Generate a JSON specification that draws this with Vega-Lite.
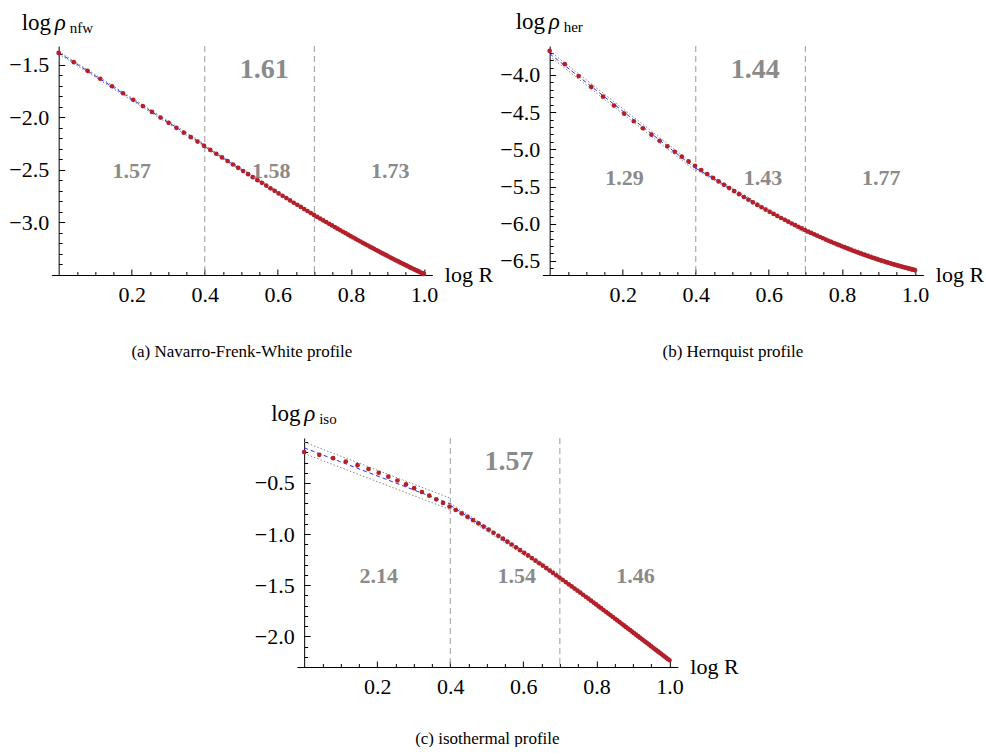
{
"$schema": "https://vega.github.io/schema/vega-lite/v6.json",
"background": "white",
"padding": {"left": 8, "top": 11, "right": 0, "bottom": 0},
"config": {"view": {"stroke": null}, "font": "Liberation Serif", "axis": {"labelOverlap": false}},
"datasets": {
"curve": [
{"x":0,"a":-1.386,"b":-3.676,"c":-0.198},{"x":0.0414,"a":-1.474,"b":-3.855,"c":-0.225},{"x":0.0792,"a":-1.556,"b":-4.015,"c":-0.257},{"x":0.1139,"a":-1.632,"b":-4.160,"c":-0.291},{"x":0.1461,"a":-1.703,"b":-4.291,"c":-0.326},{"x":0.1761,"a":-1.770,"b":-4.411,"c":-0.363},{"x":0.2041,"a":-1.832,"b":-4.520,"c":-0.401},{"x":0.2304,"a":-1.892,"b":-4.622,"c":-0.438},{"x":0.2553,"a":-1.948,"b":-4.716,"c":-0.476},{"x":0.2788,"a":-2.001,"b":-4.803,"c":-0.514},
{"x":0.3010,"a":-2.051,"b":-4.884,"c":-0.551},{"x":0.3222,"a":-2.099,"b":-4.960,"c":-0.588},{"x":0.3424,"a":-2.145,"b":-5.032,"c":-0.624},{"x":0.3617,"a":-2.188,"b":-5.099,"c":-0.660},{"x":0.3802,"a":-2.230,"b":-5.162,"c":-0.695},{"x":0.3979,"a":-2.270,"b":-5.222,"c":-0.730},{"x":0.4150,"a":-2.309,"b":-5.279,"c":-0.764},{"x":0.4314,"a":-2.346,"b":-5.332,"c":-0.798},{"x":0.4472,"a":-2.381,"b":-5.383,"c":-0.831},{"x":0.4624,"a":-2.415,"b":-5.431,"c":-0.863},
{"x":0.4771,"a":-2.448,"b":-5.477,"c":-0.895},{"x":0.4914,"a":-2.480,"b":-5.521,"c":-0.926},{"x":0.5051,"a":-2.511,"b":-5.563,"c":-0.957},{"x":0.5185,"a":-2.540,"b":-5.603,"c":-0.987},{"x":0.5315,"a":-2.569,"b":-5.641,"c":-1.016},{"x":0.5441,"a":-2.597,"b":-5.678,"c":-1.045},{"x":0.5563,"a":-2.623,"b":-5.713,"c":-1.074},{"x":0.5682,"a":-2.649,"b":-5.747,"c":-1.102},{"x":0.5798,"a":-2.675,"b":-5.779,"c":-1.129},{"x":0.5911,"a":-2.699,"b":-5.810,"c":-1.157},
{"x":0.6021,"a":-2.723,"b":-5.840,"c":-1.183},{"x":0.6128,"a":-2.746,"b":-5.868,"c":-1.209},{"x":0.6232,"a":-2.768,"b":-5.896,"c":-1.235},{"x":0.6335,"a":-2.790,"b":-5.923,"c":-1.260},{"x":0.6435,"a":-2.812,"b":-5.948,"c":-1.285},{"x":0.6532,"a":-2.832,"b":-5.973,"c":-1.309},{"x":0.6628,"a":-2.852,"b":-5.997,"c":-1.333},{"x":0.6721,"a":-2.872,"b":-6.020,"c":-1.357},{"x":0.6812,"a":-2.891,"b":-6.042,"c":-1.380},{"x":0.6902,"a":-2.910,"b":-6.064,"c":-1.403},
{"x":0.6990,"a":-2.928,"b":-6.085,"c":-1.425},{"x":0.7076,"a":-2.946,"b":-6.105,"c":-1.447},{"x":0.7160,"a":-2.963,"b":-6.124,"c":-1.469},{"x":0.7243,"a":-2.980,"b":-6.143,"c":-1.491},{"x":0.7324,"a":-2.996,"b":-6.161,"c":-1.512},{"x":0.7404,"a":-3.013,"b":-6.179,"c":-1.533},{"x":0.7482,"a":-3.028,"b":-6.196,"c":-1.553},{"x":0.7559,"a":-3.044,"b":-6.213,"c":-1.573},{"x":0.7634,"a":-3.059,"b":-6.229,"c":-1.593},{"x":0.7709,"a":-3.074,"b":-6.245,"c":-1.613},
{"x":0.7782,"a":-3.088,"b":-6.260,"c":-1.632},{"x":0.7853,"a":-3.102,"b":-6.275,"c":-1.651},{"x":0.7924,"a":-3.116,"b":-6.289,"c":-1.670},{"x":0.7993,"a":-3.130,"b":-6.303,"c":-1.688},{"x":0.8062,"a":-3.143,"b":-6.316,"c":-1.707},{"x":0.8129,"a":-3.156,"b":-6.329,"c":-1.725},{"x":0.8195,"a":-3.169,"b":-6.342,"c":-1.743},{"x":0.8261,"a":-3.181,"b":-6.355,"c":-1.760},{"x":0.8325,"a":-3.194,"b":-6.367,"c":-1.777},{"x":0.8388,"a":-3.206,"b":-6.378,"c":-1.795},
{"x":0.8451,"a":-3.217,"b":-6.390,"c":-1.811},{"x":0.8513,"a":-3.229,"b":-6.401,"c":-1.828},{"x":0.8573,"a":-3.240,"b":-6.412,"c":-1.844},{"x":0.8633,"a":-3.251,"b":-6.422,"c":-1.861},{"x":0.8692,"a":-3.262,"b":-6.432,"c":-1.877},{"x":0.8751,"a":-3.273,"b":-6.442,"c":-1.893},{"x":0.8808,"a":-3.284,"b":-6.452,"c":-1.908},{"x":0.8865,"a":-3.294,"b":-6.461,"c":-1.924},{"x":0.8921,"a":-3.304,"b":-6.471,"c":-1.939},{"x":0.8976,"a":-3.314,"b":-6.480,"c":-1.954},
{"x":0.9031,"a":-3.324,"b":-6.488,"c":-1.969},{"x":0.9085,"a":-3.334,"b":-6.497,"c":-1.984},{"x":0.9138,"a":-3.343,"b":-6.505,"c":-1.998},{"x":0.9191,"a":-3.353,"b":-6.513,"c":-2.013},{"x":0.9243,"a":-3.362,"b":-6.521,"c":-2.027},{"x":0.9294,"a":-3.371,"b":-6.529,"c":-2.041},{"x":0.9345,"a":-3.380,"b":-6.536,"c":-2.055},{"x":0.9395,"a":-3.388,"b":-6.543,"c":-2.068},{"x":0.9445,"a":-3.397,"b":-6.551,"c":-2.082},{"x":0.9494,"a":-3.405,"b":-6.557,"c":-2.096},
{"x":0.9542,"a":-3.414,"b":-6.564,"c":-2.109},{"x":0.9590,"a":-3.422,"b":-6.571,"c":-2.122},{"x":0.9638,"a":-3.430,"b":-6.577,"c":-2.135},{"x":0.9685,"a":-3.438,"b":-6.583,"c":-2.148},{"x":0.9731,"a":-3.446,"b":-6.589,"c":-2.160},{"x":0.9777,"a":-3.453,"b":-6.595,"c":-2.173},{"x":0.9823,"a":-3.461,"b":-6.601,"c":-2.186},{"x":0.9868,"a":-3.468,"b":-6.607,"c":-2.198},{"x":0.9912,"a":-3.476,"b":-6.612,"c":-2.210},{"x":0.9956,"a":-3.483,"b":-6.618,"c":-2.222},
{"x":1.0,"a":-3.490,"b":-6.623,"c":-2.234}
],
"fits": [
{"p":"a","g":"1f","k":"fit","x":0,"y":-1.383},{"p":"a","g":"1f","k":"fit","x":0.4,"y":-2.267},
{"p":"a","g":"1h","k":"band","x":0,"y":-1.371},{"p":"a","g":"1h","k":"band","x":0.4,"y":-2.255},
{"p":"a","g":"1l","k":"band","x":0,"y":-1.395},{"p":"a","g":"1l","k":"band","x":0.4,"y":-2.279},
{"p":"a","g":"2f","k":"fit","x":0.4,"y":-2.277},{"p":"a","g":"2f","k":"fit","x":0.7,"y":-2.935},
{"p":"a","g":"2h","k":"band","x":0.4,"y":-2.265},{"p":"a","g":"2h","k":"band","x":0.7,"y":-2.923},
{"p":"a","g":"2l","k":"band","x":0.4,"y":-2.289},{"p":"a","g":"2l","k":"band","x":0.7,"y":-2.947},
{"p":"a","g":"3f","k":"fit","x":0.7,"y":-2.940},{"p":"a","g":"3f","k":"fit","x":1.0,"y":-3.502},
{"p":"a","g":"3h","k":"band","x":0.7,"y":-2.930},{"p":"a","g":"3h","k":"band","x":1.0,"y":-3.492},
{"p":"a","g":"3l","k":"band","x":0.7,"y":-2.950},{"p":"a","g":"3l","k":"band","x":1.0,"y":-3.512},
{"p":"b","g":"1f","k":"fit","x":0,"y":-3.713},{"p":"b","g":"1f","k":"fit","x":0.4,"y":-5.259},
{"p":"b","g":"1h","k":"band","x":0,"y":-3.678},{"p":"b","g":"1h","k":"band","x":0.4,"y":-5.224},
{"p":"b","g":"1l","k":"band","x":0,"y":-3.748},{"p":"b","g":"1l","k":"band","x":0.4,"y":-5.294},
{"p":"b","g":"2f","k":"fit","x":0.4,"y":-5.254},{"p":"b","g":"2f","k":"fit","x":0.7,"y":-6.110},
{"p":"b","g":"2h","k":"band","x":0.4,"y":-5.234},{"p":"b","g":"2h","k":"band","x":0.7,"y":-6.090},
{"p":"b","g":"2l","k":"band","x":0.4,"y":-5.274},{"p":"b","g":"2l","k":"band","x":0.7,"y":-6.130},
{"p":"b","g":"3f","k":"fit","x":0.7,"y":-6.110},{"p":"b","g":"3f","k":"fit","x":1.0,"y":-6.648},
{"p":"b","g":"3h","k":"band","x":0.7,"y":-6.095},{"p":"b","g":"3h","k":"band","x":1.0,"y":-6.633},
{"p":"b","g":"3l","k":"band","x":0.7,"y":-6.125},{"p":"b","g":"3l","k":"band","x":1.0,"y":-6.663},
{"p":"c","g":"1f","k":"fit","x":0,"y":-0.156},{"p":"c","g":"1f","k":"fit","x":0.4,"y":-0.705},
{"p":"c","g":"1h","k":"band","x":0,"y":-0.100},{"p":"c","g":"1h","k":"band","x":0.4,"y":-0.649},
{"p":"c","g":"1l","k":"band","x":0,"y":-0.212},{"p":"c","g":"1l","k":"band","x":0.4,"y":-0.761},
{"p":"c","g":"2f","k":"fit","x":0.4,"y":-0.718},{"p":"c","g":"2f","k":"fit","x":0.7,"y":-1.413},
{"p":"c","g":"2h","k":"band","x":0.4,"y":-0.698},{"p":"c","g":"2h","k":"band","x":0.7,"y":-1.393},
{"p":"c","g":"2l","k":"band","x":0.4,"y":-0.738},{"p":"c","g":"2l","k":"band","x":0.7,"y":-1.433},
{"p":"c","g":"3f","k":"fit","x":0.7,"y":-1.422},{"p":"c","g":"3f","k":"fit","x":1.0,"y":-2.231},
{"p":"c","g":"3h","k":"band","x":0.7,"y":-1.410},{"p":"c","g":"3h","k":"band","x":1.0,"y":-2.219},
{"p":"c","g":"3l","k":"band","x":0.7,"y":-1.434},{"p":"c","g":"3l","k":"band","x":1.0,"y":-2.243}
],
"notes": [
{"p":"a","k":"big","t":"1.61","x":0.563,"y":-1.548},
{"p":"a","k":"small","t":"1.57","x":0.20,"y":-2.510},
{"p":"a","k":"small","t":"1.58","x":0.582,"y":-2.510},
{"p":"a","k":"small","t":"1.73","x":0.908,"y":-2.510},
{"p":"b","k":"big","t":"1.44","x":0.563,"y":-3.930},
{"p":"b","k":"small","t":"1.29","x":0.205,"y":-5.383},
{"p":"b","k":"small","t":"1.43","x":0.584,"y":-5.383},
{"p":"b","k":"small","t":"1.77","x":0.908,"y":-5.383},
{"p":"c","k":"big","t":"1.57","x":0.561,"y":-0.294},
{"p":"c","k":"small","t":"2.14","x":0.204,"y":-1.414},
{"p":"c","k":"small","t":"1.54","x":0.582,"y":-1.414},
{"p":"c","k":"small","t":"1.46","x":0.907,"y":-1.414}
],
"cuts": [{"x":0.4},{"x":0.7}]
},
"vconcat": [
{"hconcat": [
{
"width": 381, "height": 229,
"title": {"text": "(a) Navarro-Frenk-White profile", "orient": "bottom", "anchor": "middle", "frame": "group", "offset": 36, "font": "Liberation Serif", "fontSize": 17, "fontWeight": "normal", "color": "black", "baseline": "top"},
"layer": [
{"data": {"name": "cuts"}, "mark": {"type": "rule", "color": "#9a9a9a", "strokeDash": [6, 4], "strokeWidth": 1}, "encoding": {"x": {"field": "x", "type": "quantitative"}}},
{"data": {"name": "fits"}, "transform": [{"filter": "datum.p == 'a' && datum.k == 'band'"}], "mark": {"type": "line", "color": "#888888", "strokeDash": [1.5, 2], "strokeWidth": 1}, "encoding": {"x": {"field": "x", "type": "quantitative"}, "y": {"field": "y", "type": "quantitative"}, "detail": {"field": "g"}}},
{"data": {"name": "fits"}, "transform": [{"filter": "datum.p == 'a' && datum.k == 'fit'"}], "mark": {"type": "line", "color": "#2a2aff", "strokeDash": [4, 3], "strokeWidth": 1}, "encoding": {"x": {"field": "x", "type": "quantitative"}, "y": {"field": "y", "type": "quantitative"}, "detail": {"field": "g"}}},
{"data": {"name": "curve"}, "mark": {"type": "circle", "size": 22, "color": "#b3202a", "opacity": 1},
 "encoding": {
  "x": {"field": "x", "type": "quantitative", "scale": {"domain": [-0.02, 1.023], "nice": false, "zero": false},
   "axis": {"title": "log R", "titleAngle": 0, "titleX": 393, "titleY": 6, "titleAlign": "left", "titleBaseline": "alphabetic", "titleFont": "Liberation Serif", "titleFontSize": 22, "titleFontWeight": "normal", "titleColor": "black",
    "values": [0.05,0.1,0.15,0.2,0.25,0.3,0.35,0.4,0.45,0.5,0.55,0.6,0.65,0.7,0.75,0.8,0.85,0.9,0.95,1.0], "tickCount": 200,
    "format": ".1f", "labelExpr": "abs(datum.value*5 - round(datum.value*5)) < 0.001 ? datum.label : ''",
    "labelFont": "Liberation Serif", "labelFontSize": 22, "labelColor": "black", "labelPadding": 15, "labelFlush": false, "labelOverlap": false,
    "tickColor": "black", "tickWidth": 1, "tickSize": {"condition": {"test": "abs(datum.value*5 - round(datum.value*5)) < 0.001", "value": -6}, "value": -3.5},
    "domainColor": "black", "domainWidth": 1, "grid": false}},
  "y": {"field": "a", "type": "quantitative", "scale": {"domain": [-3.5, -1.32], "nice": false, "zero": false},
   "axis": {"title": null, "offset": -7.3,
    "values": [-1.4,-1.5,-1.6,-1.7,-1.8,-1.9,-2.0,-2.1,-2.2,-2.3,-2.4,-2.5,-2.6,-2.7,-2.8,-2.9,-3.0,-3.1,-3.2,-3.3,-3.4], "tickCount": 200,
    "format": ".1f", "labelExpr": "abs(datum.value*2 - round(datum.value*2)) < 0.001 ? datum.label : ''",
    "labelFont": "Liberation Serif", "labelFontSize": 22, "labelColor": "black", "labelPadding": 16, "labelFlush": false, "labelOverlap": false, "labelBaseline": "middle",
    "tickColor": "black", "tickWidth": 1, "tickSize": {"condition": {"test": "abs(datum.value*2 - round(datum.value*2)) < 0.001", "value": -6}, "value": -3.5},
    "domainColor": "black", "domainWidth": 1, "grid": false}}}},
{"data": {"name": "notes"}, "transform": [{"filter": "datum.p == 'a' && datum.k == 'small'"}], "mark": {"type": "text", "font": "Liberation Serif", "fontWeight": "bold", "fontSize": 22, "color": "#8a8a8a", "baseline": "middle", "align": "center"}, "encoding": {"x": {"field": "x", "type": "quantitative"}, "y": {"field": "y", "type": "quantitative"}, "text": {"field": "t"}}},
{"data": {"name": "notes"}, "transform": [{"filter": "datum.p == 'a' && datum.k == 'big'"}], "mark": {"type": "text", "font": "Liberation Serif", "fontWeight": "bold", "fontSize": 28, "color": "#8a8a8a", "baseline": "middle", "align": "center"}, "encoding": {"x": {"field": "x", "type": "quantitative"}, "y": {"field": "y", "type": "quantitative"}, "text": {"field": "t"}}},
{"data": {"values": [{"t": "log"}]}, "mark": {"type": "text", "font": "Liberation Serif", "fontSize": 23, "color": "black", "align": "left", "baseline": "alphabetic", "dx": -37, "dy": -16.3}, "encoding": {"x": {"datum": 0, "type": "quantitative"}, "y": {"datum": -1.32, "type": "quantitative"}, "text": {"field": "t"}}},
{"data": {"values": [{"t": "ρ"}]}, "mark": {"type": "text", "font": "Liberation Serif", "fontSize": 23, "fontStyle": "italic", "color": "black", "align": "left", "baseline": "alphabetic", "dx": -4, "dy": -16.3}, "encoding": {"x": {"datum": 0, "type": "quantitative"}, "y": {"datum": -1.32, "type": "quantitative"}, "text": {"field": "t"}}},
{"data": {"values": [{"t": "nfw"}]}, "mark": {"type": "text", "font": "Liberation Serif", "fontSize": 15, "color": "black", "align": "left", "baseline": "alphabetic", "dx": 11, "dy": -13.5}, "encoding": {"x": {"datum": 0, "type": "quantitative"}, "y": {"datum": -1.32, "type": "quantitative"}, "text": {"field": "t"}}}
]
},
{
"width": 381, "height": 229,
"title": {"text": "(b) Hernquist profile", "orient": "bottom", "anchor": "middle", "frame": "group", "offset": 36, "font": "Liberation Serif", "fontSize": 17, "fontWeight": "normal", "color": "black", "baseline": "top"},
"layer": [
{"data": {"name": "cuts"}, "mark": {"type": "rule", "color": "#9a9a9a", "strokeDash": [6, 4], "strokeWidth": 1}, "encoding": {"x": {"field": "x", "type": "quantitative"}}},
{"data": {"name": "fits"}, "transform": [{"filter": "datum.p == 'b' && datum.k == 'band'"}], "mark": {"type": "line", "color": "#888888", "strokeDash": [1.5, 2], "strokeWidth": 1}, "encoding": {"x": {"field": "x", "type": "quantitative"}, "y": {"field": "y", "type": "quantitative"}, "detail": {"field": "g"}}},
{"data": {"name": "fits"}, "transform": [{"filter": "datum.p == 'b' && datum.k == 'fit'"}], "mark": {"type": "line", "color": "#2a2aff", "strokeDash": [4, 3], "strokeWidth": 1}, "encoding": {"x": {"field": "x", "type": "quantitative"}, "y": {"field": "y", "type": "quantitative"}, "detail": {"field": "g"}}},
{"data": {"name": "curve"}, "mark": {"type": "circle", "size": 22, "color": "#b3202a", "opacity": 1},
 "encoding": {
  "x": {"field": "x", "type": "quantitative", "scale": {"domain": [-0.02, 1.023], "nice": false, "zero": false},
   "axis": {"title": "log R", "titleAngle": 0, "titleX": 393, "titleY": 6, "titleAlign": "left", "titleBaseline": "alphabetic", "titleFont": "Liberation Serif", "titleFontSize": 22, "titleFontWeight": "normal", "titleColor": "black",
    "values": [0.05,0.1,0.15,0.2,0.25,0.3,0.35,0.4,0.45,0.5,0.55,0.6,0.65,0.7,0.75,0.8,0.85,0.9,0.95,1.0], "tickCount": 200,
    "format": ".1f", "labelExpr": "abs(datum.value*5 - round(datum.value*5)) < 0.001 ? datum.label : ''",
    "labelFont": "Liberation Serif", "labelFontSize": 22, "labelColor": "black", "labelPadding": 15, "labelFlush": false, "labelOverlap": false,
    "tickColor": "black", "tickWidth": 1, "tickSize": {"condition": {"test": "abs(datum.value*5 - round(datum.value*5)) < 0.001", "value": -6}, "value": -3.5},
    "domainColor": "black", "domainWidth": 1, "grid": false}},
  "y": {"field": "b", "type": "quantitative", "scale": {"domain": [-6.69, -3.61], "nice": false, "zero": false},
   "axis": {"title": null, "offset": -7.3,
    "values": [-3.7,-3.8,-3.9,-4.0,-4.1,-4.2,-4.3,-4.4,-4.5,-4.6,-4.7,-4.8,-4.9,-5.0,-5.1,-5.2,-5.3,-5.4,-5.5,-5.6,-5.7,-5.8,-5.9,-6.0,-6.1,-6.2,-6.3,-6.4,-6.5,-6.6], "tickCount": 200,
    "format": ".1f", "labelExpr": "abs(datum.value*2 - round(datum.value*2)) < 0.001 ? datum.label : ''",
    "labelFont": "Liberation Serif", "labelFontSize": 22, "labelColor": "black", "labelPadding": 16, "labelFlush": false, "labelOverlap": false, "labelBaseline": "middle",
    "tickColor": "black", "tickWidth": 1, "tickSize": {"condition": {"test": "abs(datum.value*2 - round(datum.value*2)) < 0.001", "value": -6}, "value": -3.5},
    "domainColor": "black", "domainWidth": 1, "grid": false}}}},
{"data": {"name": "notes"}, "transform": [{"filter": "datum.p == 'b' && datum.k == 'small'"}], "mark": {"type": "text", "font": "Liberation Serif", "fontWeight": "bold", "fontSize": 22, "color": "#8a8a8a", "baseline": "middle", "align": "center"}, "encoding": {"x": {"field": "x", "type": "quantitative"}, "y": {"field": "y", "type": "quantitative"}, "text": {"field": "t"}}},
{"data": {"name": "notes"}, "transform": [{"filter": "datum.p == 'b' && datum.k == 'big'"}], "mark": {"type": "text", "font": "Liberation Serif", "fontWeight": "bold", "fontSize": 28, "color": "#8a8a8a", "baseline": "middle", "align": "center"}, "encoding": {"x": {"field": "x", "type": "quantitative"}, "y": {"field": "y", "type": "quantitative"}, "text": {"field": "t"}}},
{"data": {"values": [{"t": "log"}]}, "mark": {"type": "text", "font": "Liberation Serif", "fontSize": 23, "color": "black", "align": "left", "baseline": "alphabetic", "dx": -34, "dy": -16.7}, "encoding": {"x": {"datum": 0, "type": "quantitative"}, "y": {"datum": -3.61, "type": "quantitative"}, "text": {"field": "t"}}},
{"data": {"values": [{"t": "ρ"}]}, "mark": {"type": "text", "font": "Liberation Serif", "fontSize": 23, "fontStyle": "italic", "color": "black", "align": "left", "baseline": "alphabetic", "dx": -1, "dy": -16.7}, "encoding": {"x": {"datum": 0, "type": "quantitative"}, "y": {"datum": -3.61, "type": "quantitative"}, "text": {"field": "t"}}},
{"data": {"values": [{"t": "her"}]}, "mark": {"type": "text", "font": "Liberation Serif", "fontSize": 15, "color": "black", "align": "left", "baseline": "alphabetic", "dx": 14, "dy": -13.9}, "encoding": {"x": {"datum": 0, "type": "quantitative"}, "y": {"datum": -3.61, "type": "quantitative"}, "text": {"field": "t"}}}
]
}
], "spacing": 6},
{
"width": 381, "height": 229,
"title": {"text": "(c) isothermal profile", "orient": "bottom", "anchor": "middle", "frame": "group", "offset": 31, "font": "Liberation Serif", "fontSize": 17, "fontWeight": "normal", "color": "black", "baseline": "top"},
"layer": [
{"data": {"name": "cuts"}, "mark": {"type": "rule", "color": "#9a9a9a", "strokeDash": [6, 4], "strokeWidth": 1}, "encoding": {"x": {"field": "x", "type": "quantitative"}}},
{"data": {"name": "fits"}, "transform": [{"filter": "datum.p == 'c' && datum.k == 'band'"}], "mark": {"type": "line", "color": "#888888", "strokeDash": [1.5, 2], "strokeWidth": 1}, "encoding": {"x": {"field": "x", "type": "quantitative"}, "y": {"field": "y", "type": "quantitative"}, "detail": {"field": "g"}}},
{"data": {"name": "fits"}, "transform": [{"filter": "datum.p == 'c' && datum.k == 'fit'"}], "mark": {"type": "line", "color": "#2a2aff", "strokeDash": [4, 3], "strokeWidth": 1}, "encoding": {"x": {"field": "x", "type": "quantitative"}, "y": {"field": "y", "type": "quantitative"}, "detail": {"field": "g"}}},
{"data": {"name": "curve"}, "mark": {"type": "circle", "size": 22, "color": "#b3202a", "opacity": 1},
 "encoding": {
  "x": {"field": "x", "type": "quantitative", "scale": {"domain": [-0.02, 1.023], "nice": false, "zero": false},
   "axis": {"title": "log R", "titleAngle": 0, "titleX": 393, "titleY": 6, "titleAlign": "left", "titleBaseline": "alphabetic", "titleFont": "Liberation Serif", "titleFontSize": 22, "titleFontWeight": "normal", "titleColor": "black",
    "values": [0.05,0.1,0.15,0.2,0.25,0.3,0.35,0.4,0.45,0.5,0.55,0.6,0.65,0.7,0.75,0.8,0.85,0.9,0.95,1.0], "tickCount": 200,
    "format": ".1f", "labelExpr": "abs(datum.value*5 - round(datum.value*5)) < 0.001 ? datum.label : ''",
    "labelFont": "Liberation Serif", "labelFontSize": 22, "labelColor": "black", "labelPadding": 15, "labelFlush": false, "labelOverlap": false,
    "tickColor": "black", "tickWidth": 1, "tickSize": {"condition": {"test": "abs(datum.value*5 - round(datum.value*5)) < 0.001", "value": -6}, "value": -3.5},
    "domainColor": "black", "domainWidth": 1, "grid": false}},
  "y": {"field": "c", "type": "quantitative", "scale": {"domain": [-2.30, -0.06], "nice": false, "zero": false},
   "axis": {"title": null, "offset": -7.3,
    "values": [-0.1,-0.2,-0.3,-0.4,-0.5,-0.6,-0.7,-0.8,-0.9,-1.0,-1.1,-1.2,-1.3,-1.4,-1.5,-1.6,-1.7,-1.8,-1.9,-2.0,-2.1,-2.2], "tickCount": 200,
    "format": ".1f", "labelExpr": "abs(datum.value*2 - round(datum.value*2)) < 0.001 ? datum.label : ''",
    "labelFont": "Liberation Serif", "labelFontSize": 22, "labelColor": "black", "labelPadding": 16, "labelFlush": false, "labelOverlap": false, "labelBaseline": "middle",
    "tickColor": "black", "tickWidth": 1, "tickSize": {"condition": {"test": "abs(datum.value*2 - round(datum.value*2)) < 0.001", "value": -6}, "value": -3.5},
    "domainColor": "black", "domainWidth": 1, "grid": false}}}},
{"data": {"name": "notes"}, "transform": [{"filter": "datum.p == 'c' && datum.k == 'small'"}], "mark": {"type": "text", "font": "Liberation Serif", "fontWeight": "bold", "fontSize": 22, "color": "#8a8a8a", "baseline": "middle", "align": "center"}, "encoding": {"x": {"field": "x", "type": "quantitative"}, "y": {"field": "y", "type": "quantitative"}, "text": {"field": "t"}}},
{"data": {"name": "notes"}, "transform": [{"filter": "datum.p == 'c' && datum.k == 'big'"}], "mark": {"type": "text", "font": "Liberation Serif", "fontWeight": "bold", "fontSize": 28, "color": "#8a8a8a", "baseline": "middle", "align": "center"}, "encoding": {"x": {"field": "x", "type": "quantitative"}, "y": {"field": "y", "type": "quantitative"}, "text": {"field": "t"}}},
{"data": {"values": [{"t": "log"}]}, "mark": {"type": "text", "font": "Liberation Serif", "fontSize": 23, "color": "black", "align": "left", "baseline": "alphabetic", "dx": -33, "dy": -16.7}, "encoding": {"x": {"datum": 0, "type": "quantitative"}, "y": {"datum": -0.06, "type": "quantitative"}, "text": {"field": "t"}}},
{"data": {"values": [{"t": "ρ"}]}, "mark": {"type": "text", "font": "Liberation Serif", "fontSize": 23, "fontStyle": "italic", "color": "black", "align": "left", "baseline": "alphabetic", "dx": 0, "dy": -16.7}, "encoding": {"x": {"datum": 0, "type": "quantitative"}, "y": {"datum": -0.06, "type": "quantitative"}, "text": {"field": "t"}}},
{"data": {"values": [{"t": "iso"}]}, "mark": {"type": "text", "font": "Liberation Serif", "fontSize": 15, "color": "black", "align": "left", "baseline": "alphabetic", "dx": 15, "dy": -13.9}, "encoding": {"x": {"datum": 0, "type": "quantitative"}, "y": {"datum": -0.06, "type": "quantitative"}, "text": {"field": "t"}}}
]
}
],
"spacing": 43,
"center": true
}
